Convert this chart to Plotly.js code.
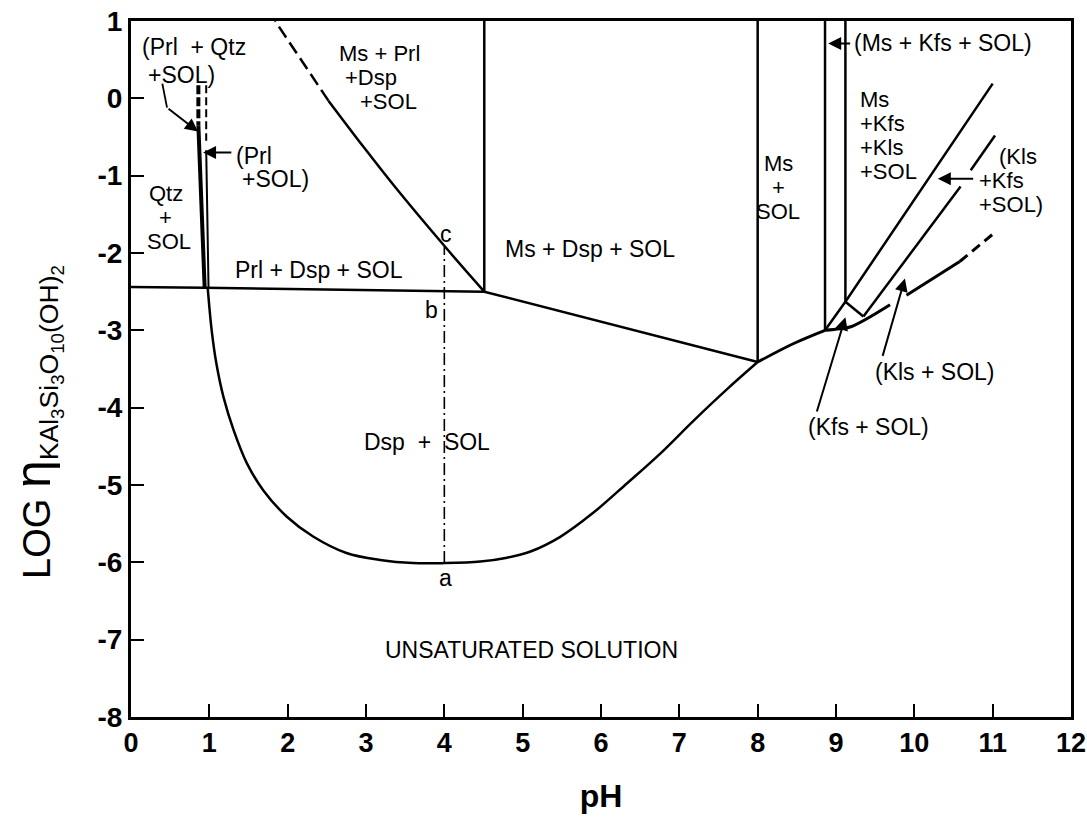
<!DOCTYPE html>
<html>
<head>
<meta charset="utf-8">
<script src="https://cdn.plot.ly/plotly-3.0.1.min.js"></script>
<style>
  html, body { margin: 0; padding: 0; background: #fff; }
  #chart { width: 1087px; height: 819px; }
</style>
</head>
<body>
<div id="chart"></div>
<script>
// Axis ticks
const pHTicks = [0, 1, 2, 3, 4, 5, 6, 7, 8, 9, 10, 11, 12];
const pHTickText = ['0', '1', '2', '3', '4', '5', '6', '7', '8', '9', '10', '11', '12'];
const logTicks = [1, 0, -1, -2, -3, -4, -5, -6, -7, -8];
const logTickText = ['1', '0', '-1', '-2', '-3', '-4', '-5', '-6', '-7', '-8'];

// Phase boundaries (pH, log activity)
const qtzPrlDashX = [0.86, 0.86];
const qtzPrlDashY = [0.17, -0.35];
const qtzPrlX = [0.86, 0.94];
const qtzPrlY = [-0.35, -2.44];

const prlSolDashX = [0.96, 0.96];
const prlSolDashY = [0.17, -0.55];
const prlSolX = [0.96, 0.99];
const prlSolY = [-0.67, -2.46];

const prlDspX = [0, 0.94, 4.51];
const prlDspY = [-2.44, -2.45, -2.50];

const msPrlX = [4.51, 4.01, 3.39, 2.97, 2.52];
const msPrlY = [-2.50, -1.92, -1.17, -0.63, -0.03];
const msPrlDashX = [2.52, 1.84];
const msPrlDashY = [-0.03, 1.0];

const msPrlVertX = [4.51, 4.51];
const msPrlVertY = [-2.50, 1.0];

const msDspX = [4.51, 8.0];
const msDspY = [-2.50, -3.41];

const dspSolX = [0.98, 1.03, 1.09, 1.18, 1.31, 1.48, 1.69, 1.99, 2.33, 2.75, 3.18, 3.60, 4.0, 4.46, 4.80, 5.10, 5.48, 5.90, 6.33, 6.76, 7.18, 7.61, 8.0];
const dspSolY = [-2.46, -3.00, -3.43, -3.86, -4.29, -4.72, -5.07, -5.41, -5.67, -5.88, -5.97, -6.01, -6.01, -5.99, -5.94, -5.86, -5.67, -5.36, -4.98, -4.59, -4.17, -3.76, -3.41];

const msSolVertX = [8.0, 8.0];
const msSolVertY = [-3.41, 1.0];

const msSolX = [8.0, 8.46, 8.86];
const msSolY = [-3.41, -3.17, -3.0];

const msKfsVertX = [8.86, 8.86];
const msKfsVertY = [-3.0, 1.0];
const kfsKlsVertX = [9.12, 9.12];
const kfsKlsVertY = [-2.63, 1.0];

const msKfsX = [8.86, 9.12, 11.0];
const msKfsY = [-3.0, -2.63, 0.19];

const kfsKlsX = [9.12, 9.35];
const kfsKlsY = [-2.63, -2.82];

const klsLowX = [9.35, 10.59];
const klsLowY = [-2.82, -1.14];
const klsHighX = [10.72, 11.03];
const klsHighY = [-0.93, -0.48];

const kfsSolX = [8.86, 9.05, 9.20, 9.69];
const kfsSolY = [-3.0, -2.98, -2.95, -2.67];
const klsSolX = [9.90, 10.58];
const klsSolY = [-2.545, -2.11];
const klsSolDashX = [10.58, 11.01];
const klsSolDashY = [-2.11, -1.75];

// Reaction path a-b-c at pH 4
const pathX = [4.0, 4.0];
const pathY = [-6.01, -1.92];

// Bent leader of the (Prl + Qtz + SOL) pointer
const leaderX = [0.40, 0.46];
const leaderY = [0.19, -0.12];

function seg(x, y, width, dash, shape) {
  return {
    x: x, y: y, type: 'scatter', mode: 'lines', hoverinfo: 'skip',
    line: { color: '#000', width: width, dash: dash || 'solid', shape: shape || 'linear', smoothing: 1 }
  };
}

const LW = 2.5;
const traces = [
  seg(qtzPrlDashX, qtzPrlDashY, 4, '9px,3px'),
  seg(qtzPrlX, qtzPrlY, 4),
  seg(prlSolDashX, prlSolDashY, 2, '8px,4px'),
  seg(prlSolX, prlSolY, 2),
  seg(prlDspX, prlDspY, LW),
  seg(msPrlX, msPrlY, LW, 'solid', 'spline'),
  seg(msPrlDashX, msPrlDashY, LW, '13px,6px'),
  seg(msPrlVertX, msPrlVertY, LW),
  seg(msDspX, msDspY, LW),
  seg(dspSolX, dspSolY, LW, 'solid', 'spline'),
  seg(msSolVertX, msSolVertY, LW),
  seg(msSolX, msSolY, 2.8, 'solid', 'spline'),
  seg(msKfsVertX, msKfsVertY, LW),
  seg(kfsKlsVertX, kfsKlsVertY, LW),
  seg(msKfsX, msKfsY, LW),
  seg(kfsKlsX, kfsKlsY, LW),
  seg(klsLowX, klsLowY, LW),
  seg(klsHighX, klsHighY, LW),
  seg(kfsSolX, kfsSolY, 3, 'solid', 'spline'),
  seg(klsSolX, klsSolY, 3),
  seg(klsSolDashX, klsSolDashY, 3, '10px,6px'),
  seg(pathX, pathY, 1.6, '12px,4px,2px,4px'),
  seg(leaderX, leaderY, 1.8)
];

const F = 'Liberation Sans, Arial, sans-serif';
function label(text, x, y, anchor, size) {
  return {
    x: x, y: y, xref: 'x', yref: 'y', text: text, showarrow: false,
    xanchor: anchor || 'center', yanchor: 'middle',
    font: { family: F, size: size || 23, color: '#000' }
  };
}
function arrow(x, y, ax, ay) {
  return {
    x: x, y: y, ax: ax, ay: ay, xref: 'x', yref: 'y', axref: 'x', ayref: 'y',
    text: '', showarrow: true, arrowhead: 2, arrowsize: 1.3, arrowwidth: 2,
    arrowcolor: '#000', standoff: 0, startstandoff: 0
  };
}

const S = 22; // stacked labels
const annotations = [
  label('(Prl  + Qtz', 0.11, 0.67, 'left'),
  label('+SOL)', 0.19, 0.30, 'left'),
  label('(Prl', 1.31, -0.74, 'left'),
  label('+SOL)', 1.39, -1.04, 'left'),
  label('Qtz', 0.45, -1.23, 'center', S),
  label('+', 0.44, -1.54, 'center', S),
  label('SOL', 0.48, -1.85, 'center', S),
  label('Prl + Dsp + SOL', 1.30, -2.22, 'left'),
  label('Ms + Prl', 2.63, 0.58, 'left', S),
  label('+Dsp', 2.71, 0.27, 'left', S),
  label('+SOL', 2.90, -0.04, 'left', S),
  label('c', 4.02, -1.75),
  label('b', 3.84, -2.74),
  label('a', 4.01, -6.20),
  label('Ms + Dsp + SOL', 5.86, -1.95),
  label('Dsp  +  SOL', 3.78, -4.45),
  label('UNSATURATED SOLUTION', 5.11, -7.13),
  label('Ms', 8.26, -0.84, 'center', S),
  label('+', 8.26, -1.15, 'center', S),
  label('SOL', 8.26, -1.46, 'center', S),
  label('(Ms + Kfs + SOL)', 9.20, 0.71, 'left'),
  label('Ms', 9.28, -0.01, 'left', S),
  label('+Kfs', 9.28, -0.32, 'left', S),
  label('+Kls', 9.28, -0.63, 'left', S),
  label('+SOL', 9.28, -0.94, 'left', S),
  label('(Kls', 11.06, -0.75, 'left', S),
  label('+Kfs', 10.80, -1.06, 'left', S),
  label('+SOL)', 10.80, -1.37, 'left', S),
  label('(Kls + SOL)', 10.26, -3.54),
  label('(Kfs + SOL)', 9.42, -4.25),
  arrow(0.855, -0.43, 0.46, -0.12),
  arrow(0.92, -0.70, 1.30, -0.70),
  arrow(8.90, 0.71, 9.20, 0.71),
  arrow(10.30, -1.04, 10.77, -1.04),
  arrow(9.88, -2.33, 9.59, -3.35),
  arrow(9.12, -2.83, 8.75, -4.07),
  {
    xref: 'paper', yref: 'paper', x: -0.100, y: 0.424, textangle: -90,
    showarrow: false, xanchor: 'center', yanchor: 'middle',
    text: 'LOG <span style="font-size:50px">η</span><sub>KAl<sub>3</sub>Si<sub>3</sub>O<sub>10</sub>(OH)<sub>2</sub></sub>',
    font: { family: F, size: 38, color: '#000' }
  }
];

const layout = {
  width: 1087, height: 819,
  margin: { l: 131, r: 16, t: 21, b: 102 },
  paper_bgcolor: '#fff', plot_bgcolor: '#fff',
  showlegend: false,
  xaxis: {
    range: [0, 12], tickvals: pHTicks, ticktext: pHTickText,
    ticks: 'inside', ticklen: 13, tickwidth: 2, tickcolor: '#000',
    showline: true, linewidth: 3, linecolor: '#000', mirror: true,
    showgrid: false, zeroline: false,
    tickfont: { family: F, size: 27, color: '#000', weight: 'bold' },
    title: { text: 'pH', font: { family: F, size: 32, color: '#000', weight: 'bold' }, standoff: 28 }
  },
  yaxis: {
    range: [-8, 1], tickvals: logTicks, ticktext: logTickText,
    ticks: 'inside', ticklen: 13, tickwidth: 2, tickcolor: '#000',
    showline: true, linewidth: 3, linecolor: '#000', mirror: true,
    showgrid: false, zeroline: false,
    tickfont: { family: F, size: 28, color: '#000', weight: 'bold' }
  },
  annotations: annotations
};

Plotly.newPlot('chart', traces, layout, { staticPlot: true, displayModeBar: false });
</script>
</body>
</html>
